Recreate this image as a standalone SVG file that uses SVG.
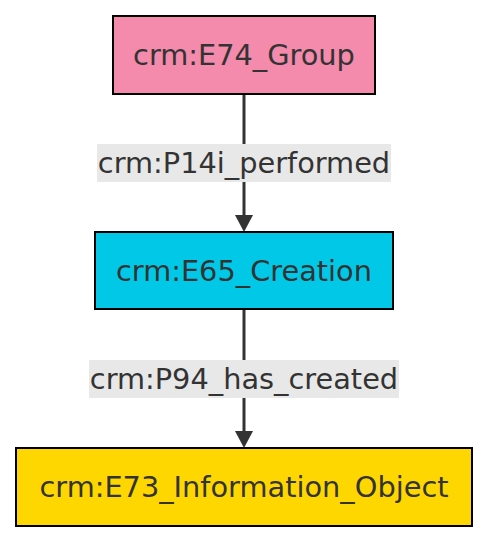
<svg xmlns="http://www.w3.org/2000/svg" width="488" height="542" viewBox="0 0 488 542">
<style>
.node rect{stroke:#000;stroke-width:2}
.lbl{font-family:"DejaVu Sans",Verdana,sans-serif;font-size:28.8px;fill:#333;text-anchor:middle;dominant-baseline:central}
.edge{stroke:#333;stroke-width:3;fill:none}
.elbg{fill:#e8e8e8}
</style>
<rect width="488" height="542" fill="#fff"/>
<g id="connectors">
<path class="edge" d="M244,94 V217"/>
<path d="M235,215 L244,232 L253,215 z" fill="#333"/>
<rect class="elbg" x="97" y="144" width="294" height="38"/>
<text class="lbl" x="244" y="163">crm:P14i_performed</text>
<path class="edge" d="M244,309 V433"/>
<path d="M235,431 L244,448 L253,431 z" fill="#333"/>
<rect class="elbg" x="89" y="360" width="310" height="38"/>
<text class="lbl" x="244" y="379">crm:P94_has_created</text>
</g>
<g id="E74_Group" class="node">
<rect x="113" y="16" width="262" height="78" fill="#f48aac"/>
<text class="lbl" x="244" y="55">crm:E74_Group</text>
</g>
<g id="E65_Creation" class="node">
<rect x="95" y="232" width="298" height="77" fill="#00c8e6"/>
<text class="lbl" x="244" y="270.5">crm:E65_Creation</text>
</g>
<g id="E73_Information_Object" class="node">
<rect x="16" y="448" width="456" height="78" fill="#ffd700"/>
<text class="lbl" x="244" y="487">crm:E73_Information_Object</text>
</g>
</svg>
